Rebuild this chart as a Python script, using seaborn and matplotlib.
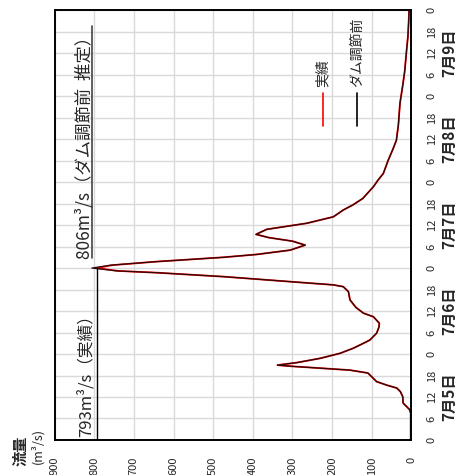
import numpy as np
import pandas as pd
import matplotlib
matplotlib.use("Agg")
import matplotlib.pyplot as plt
import matplotlib.transforms as mtransforms
import seaborn as sns

sns.set_style("white")
plt.rcParams['font.family'] = ['Noto Sans CJK JP', 'DejaVu Sans']

# hours since 7/5 0:00
hours = [0, 2, 7.5, 8.5, 9.3, 10.3, 12.1, 13.5, 14.5, 15.3, 16.3, 17.3, 18.7, 19.5,
         20, 20.6, 20.9, 21.6, 22.8, 24.2, 25.6, 27, 27.9, 29.8, 31.5, 32.6, 34.4,
         35.4, 37, 39.1, 41.4, 42.8, 43.3, 44.2, 45.6, 46.7, 47.2, 48, 48.8, 49.8,
         51, 51.8, 53, 54.4, 55.5, 56.5, 57.4, 58.8, 60.5, 62.3, 64.2, 65.6, 67.4,
         70.7, 72.6, 74.4, 78, 81.4, 83.7, 88, 94, 99, 103, 108, 112.6, 117, 120]
q_actual = [2, 2, 2, 5, 12, 21, 22, 28, 37, 62, 88, 97, 110, 155,
            223, 306, 338, 289, 230, 180, 147, 121, 105, 88, 82, 81, 96,
            121, 140, 155, 159, 172, 197, 306, 474, 642, 740, 793, 755, 642,
            474, 390, 306, 268, 300, 360, 392, 365, 264, 197, 172, 148, 123,
            96, 84, 71, 59, 46, 38, 33, 29, 22, 17, 13, 9, 7, 6]
q_before = [np.nan, 2, 2, 5, 12, 21, 22, 28, 37, 62, 88, 97, 110, 155,
            223, 306, 338, 289, 230, 180, 147, 121, 105, 88, 82, 81, 96,
            121, 140, 155, 159, 172, 197, 306, 474, 642, 743, 806, 759, 642,
            474, 390, 306, 268, 300, 360, 392, 365, 264, 197, 172, 148, 123,
            96, 84, 71, 59, 46, 38, 33, 29, 22, 17, 13, 9, 7, 6]

flow_ticks = list(range(0, 1000, 100))
hour_ticks = list(range(0, 121, 6))
hour_labels = ["0", "6", "12", "18"] * 5 + ["0"]
day_labels = ["7月5日", "7月6日", "7月7日", "7月8日", "7月9日"]
peak_actual = 793
peak_before = 806

df = pd.DataFrame({"hour": hours, "actual": q_actual, "before": q_before})

fig = plt.figure(figsize=(4.66, 4.75), dpi=100)
ax = fig.add_axes([0.117, 0.0737, 0.766, 0.905])

sns.lineplot(data=df, x="actual", y="hour", sort=False, estimator=None,
             color="red", lw=1.3, ax=ax)
sns.lineplot(data=df.dropna(), x="before", y="hour", sort=False, estimator=None,
             color="#2a0a0a", lw=0.9, ax=ax)

ax.set_xlim(900, 0)
ax.set_ylim(0, 120)
ax.set_xticks(flow_ticks)
ax.set_xticklabels([str(v) for v in flow_ticks], rotation=90, fontsize=8)
ax.set_yticks(hour_ticks)
ax.set_yticklabels(hour_labels, rotation=90, fontsize=8, va="center")
ax.yaxis.tick_right()
ax.tick_params(axis="x", length=0, pad=12)
ax.tick_params(axis="y", length=0, pad=11)
ax.set_xlabel("")
ax.set_ylabel("")
ax.grid(True, color="#d9d9d9", lw=1.0)
for s in ax.spines.values():
    s.set_color("black")
    s.set_linewidth(1.4)

# peak annotations
ax.plot([peak_actual, peak_actual], [0, 48], color="black", lw=1.0)
ax.plot([peak_before, peak_before], [50.8, 115.5], color="#444444", lw=1.2)
ax.text(798, 0.8, "793m³/s（実績）", rotation=90, ha="right",
        va="bottom", fontsize=12)
ax.text(801, 50.5, "806m³/s（ダム調節前  推定）", rotation=90,
        ha="right", va="bottom", fontsize=12.5)

# legend drawn vertically
for xa, col, lab in [(0.752, "red", "実績"), (0.848, "black", "ダム調節前")]:
    ax.plot([xa, xa], [0.730, 0.807], color=col, lw=1.2, transform=ax.transAxes)
    ax.text(xa, 0.822, lab, rotation=90, ha="center", va="bottom",
            fontsize=10, transform=ax.transAxes)

# day labels
trans = mtransforms.blended_transform_factory(ax.transAxes, ax.transData)
for i, lab in enumerate(day_labels):
    ax.text(1.105, 12 + 24 * i, lab, rotation=90, ha="center", va="center",
            fontsize=11, fontweight="bold", transform=trans)

fig.text(0.043, 0.052, "流量", rotation=90, ha="center", va="center",
         fontsize=11, fontweight="bold")
fig.text(0.081, 0.06, "(m³/s)", rotation=90, ha="center", va="center",
         fontsize=9)

fig.savefig("out.png", dpi=100)
